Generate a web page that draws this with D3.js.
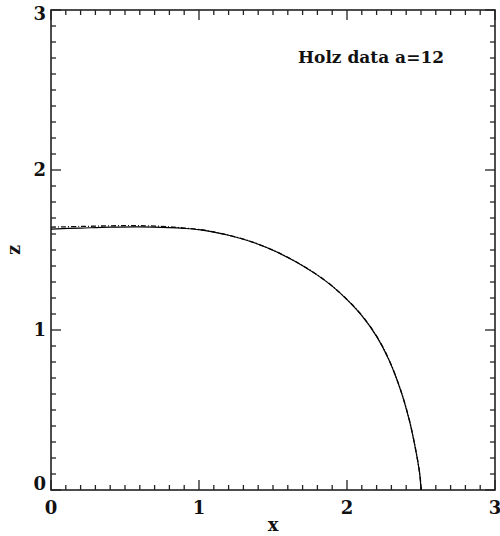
<!DOCTYPE html>
<html><head><meta charset="utf-8">
<script src="https://cdn.jsdelivr.net/npm/d3@7"></script>
<style>body{margin:0;background:#fff}svg{display:block}text{font-family:"DejaVu Serif",serif;font-weight:bold;fill:#111}</style>
</head><body><svg id="c" width="500" height="536"></svg>
<script>
// Data
const solidX = [0, 0.2, 0.4, 0.6, 0.8, 0.9, 1.0, 1.1, 1.2, 1.3, 1.4, 1.5, 1.6, 1.7, 1.8, 1.9, 2.0, 2.1, 2.2, 2.28, 2.36, 2.42, 2.46, 2.49, 2.5];
const solidZ = [1.631, 1.637, 1.643, 1.645, 1.640, 1.635, 1.627, 1.612, 1.592, 1.567, 1.536, 1.498, 1.453, 1.402, 1.343, 1.274, 1.19, 1.09, 0.96, 0.82, 0.63, 0.44, 0.27, 0.11, 0.0];
const dashX = [0, 0.2, 0.4, 0.6, 0.8, 0.9, 1.0, 1.1, 1.2, 1.3, 1.4, 1.5, 1.6, 1.7, 1.8, 1.9, 2.0, 2.1, 2.2, 2.28, 2.36, 2.42, 2.46, 2.49, 2.503];
const dashZ = [1.643, 1.647, 1.651, 1.652, 1.645, 1.637, 1.628, 1.613, 1.593, 1.568, 1.537, 1.499, 1.454, 1.403, 1.344, 1.275, 1.191, 1.092, 0.962, 0.822, 0.632, 0.442, 0.272, 0.112, 0.0];
const xTicks = [0, 1, 2, 3];
const zTicks = [0, 1, 2, 3];
const title = "Holz data a=12";
const xLabel = "x", zLabel = "z";

const svg = d3.select("#c");
const L = 51, R = 495, T = 10, B = 490;
const x = d3.scaleLinear().domain([0, 3]).range([L, R]);
const y = d3.scaleLinear().domain([0, 3]).range([B, T]);
const minorX = d3.range(0, 3.0001, 0.1), minorY = d3.range(0, 3.0001, 0.1);
const g = svg.append("g").attr("stroke", "#222").attr("stroke-width", 1.3);
minorX.forEach(v => {
  const major = Math.abs(v - Math.round(v)) < 1e-6;
  const len = major ? 10 : 5;
  g.append("line").attr("x1", x(v)).attr("x2", x(v)).attr("y1", B).attr("y2", B - len);
  g.append("line").attr("x1", x(v)).attr("x2", x(v)).attr("y1", T).attr("y2", T + len);
});
minorY.forEach(v => {
  const major = Math.abs(v - Math.round(v)) < 1e-6;
  const len = major ? 10 : 5;
  g.append("line").attr("y1", y(v)).attr("y2", y(v)).attr("x1", L).attr("x2", L + len);
  g.append("line").attr("y1", y(v)).attr("y2", y(v)).attr("x1", R).attr("x2", R - len);
});
svg.append("rect").attr("x", L).attr("y", T).attr("width", R - L).attr("height", B - T)
  .attr("fill", "none").attr("stroke", "#222").attr("stroke-width", 1.6);

const curveS = d3.line().x(d => x(d[0])).y(d => y(d[1])).curve(d3.curveCatmullRom.alpha(0.5));
svg.append("path").datum(dashX.map((v, i) => [v, dashZ[i]])).attr("d", curveS)
  .attr("fill", "none").attr("stroke", "#111").attr("stroke-width", 1.3).attr("stroke-dasharray", "5,2,1,2");
svg.append("path").datum(solidX.map((v, i) => [v, solidZ[i]])).attr("d", curveS)
  .attr("fill", "none").attr("stroke", "#000").attr("stroke-width", 1.2);

const fs = 18;
zTicks.forEach((v, i) => {
  let yy = y(v);
  if (i === 0) yy -= 6; if (i === zTicks.length - 1) yy += 4;
  svg.append("text").attr("x", 46).attr("y", yy).attr("dy", "0.36em").attr("text-anchor", "end")
    .attr("font-size", fs).text(v);
});
xTicks.forEach(v => {
  svg.append("text").attr("x", x(v)).attr("y", 514).attr("text-anchor", "middle")
    .attr("font-size", fs).text(v);
});
svg.append("text").attr("x", 273).attr("y", 531).attr("text-anchor", "middle").attr("font-size", fs).text(xLabel);
svg.append("text").attr("transform", "translate(20,250) rotate(-90)").attr("text-anchor", "middle")
  .attr("font-size", fs).text(zLabel);
svg.append("text").attr("x", 298).attr("y", 63).attr("font-size", 17).text(title);
</script></body></html>
